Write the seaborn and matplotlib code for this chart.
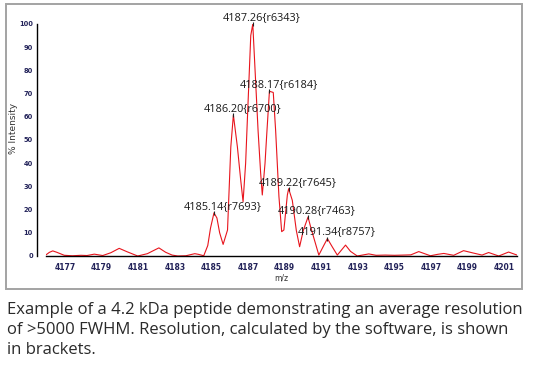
import numpy as np
import pandas as pd
import matplotlib
matplotlib.use("Agg")
import matplotlib.pyplot as plt
import seaborn as sns
from matplotlib.patches import Rectangle

# spectrum trace (m/z, % intensity)
mz = [4175.96, 4176.15, 4176.33, 4176.55, 4176.96, 4177.40, 4177.87, 4178.20,
      4178.60, 4179.06, 4179.50, 4179.96, 4180.40, 4180.97, 4181.50, 4181.85,
      4182.13, 4182.50, 4182.85, 4183.16, 4183.60, 4184.09, 4184.30, 4184.58,
      4184.80, 4184.95, 4185.14, 4185.30, 4185.45, 4185.64, 4185.88, 4186.06,
      4186.20, 4186.42, 4186.60, 4186.73, 4186.87, 4186.93, 4187.15, 4187.26,
      4187.55, 4187.69, 4187.78, 4187.93, 4188.02, 4188.17, 4188.38, 4188.51,
      4188.69, 4188.84, 4188.96, 4189.15, 4189.22, 4189.42, 4189.64, 4189.82,
      4190.02, 4190.28, 4190.42, 4190.87, 4191.15, 4191.34, 4191.60, 4191.88,
      4192.10, 4192.33, 4192.60, 4192.97, 4193.60, 4194.00, 4194.50, 4195.00,
      4195.50, 4195.90, 4196.33, 4196.97, 4197.35, 4197.70, 4198.24, 4198.78,
      4199.30, 4199.79, 4200.15, 4200.70, 4201.24, 4201.70]
intensity = [0.5, 1.6, 2.2, 1.6, 0.3, 0.1, 0.3, 0.2,
             0.8, 0.2, 1.4, 3.3, 1.8, 0.0, 1.0, 2.4,
             3.5, 1.6, 0.4, 0.0, 0.1, 1.0, 0.7, 0.1,
             4.5, 12.0, 18.6, 16.4, 10.0, 5.0, 11.2, 47.0,
             60.8, 47.0, 32.8, 23.4, 40.0, 52.0, 95.0, 100.0,
             54.0, 35.8, 26.3, 40.0, 52.0, 71.0, 70.5, 54.0,
             25.6, 10.5, 11.2, 26.3, 29.0, 24.0, 11.0, 4.0,
             11.0, 16.8, 12.6, 0.4, 4.7, 7.5, 4.0, 0.4,
             2.5, 4.7, 2.0, 0.0, 0.9, 0.3, 0.4, 0.3,
             0.4, 0.5, 1.9, 0.1, 0.7, 1.1, 0.3, 2.3,
             1.3, 0.4, 1.5, 0.0, 1.7, 0.4]

# labelled peaks
peak_mz = [4185.14, 4186.20, 4187.26, 4188.17, 4189.22, 4190.28, 4191.34]
peak_int = [18.6, 60.8, 100.0, 71.0, 29.0, 16.8, 7.5]
resolution = [7693, 6700, 6343, 6184, 7645, 7463, 8757]

major_ticks = list(range(4177, 4202, 2))
minor_ticks = list(range(4176, 4202, 1))
y_ticks = list(range(0, 101, 10))

caption = ["Example of a 4.2 kDa peptide demonstrating an average resolution",
           "of >5000 FWHM. Resolution, calculated by the software, is shown",
           "in brackets."]

df = pd.DataFrame({"mz": mz, "intensity": intensity})

sns.set_style("white")
W, H = 533, 366
fig = plt.figure(figsize=(W / 100, H / 100), dpi=100)

# grey frame round the plot
fig.patches.append(Rectangle((6 / W, 1 - 289 / H), 516 / W, 285 / H,
                             transform=fig.transFigure, fill=False,
                             edgecolor="#a3a3a3", lw=1.4))

ax = fig.add_axes([46 / W, 1 - 256 / H, 471 / W, 232 / H])
sns.lineplot(data=df, x="mz", y="intensity", ax=ax, color="#e8141c",
             lw=0.8, estimator=None)

ax.set_xlim(mz[0], mz[-1])
ax.set_ylim(0, 100)
for s in ["top", "right"]:
    ax.spines[s].set_visible(False)
ax.spines["left"].set_position(("outward", 6.5))
ax.spines["left"].set_linewidth(1.0)
ax.spines["bottom"].set_linewidth(1.0)
ax.spines["left"].set_color("black")
ax.spines["bottom"].set_color("black")

tick_col = "#23235a"
ax.set_xticks(major_ticks)
ax.set_xticks(minor_ticks, minor=True)
ax.set_yticks(y_ticks)
ax.tick_params(axis="x", which="both", direction="out", length=3, width=0.8,
               color="black", pad=2, labelsize=5.5, labelcolor=tick_col)
ax.tick_params(axis="y", direction="out", length=2, width=0.8, color="black",
               pad=1, labelsize=4.8, labelcolor=tick_col)
for lab in ax.get_xticklabels() + ax.get_yticklabels():
    lab.set_fontweight("bold")

ax.set_xlabel("m/z", fontsize=5.5, color="#333333", labelpad=1)
ax.set_ylabel("% Intensity", fontsize=6.5, color="#333333", labelpad=3)
ax.yaxis.set_label_coords(-0.06, 0.55)

# peak markers and labels
ax.plot(peak_mz, peak_int, ls="none", marker="|", ms=3, mew=0.8,
        color="#222222", clip_on=False)
for m, v, r in zip(peak_mz, peak_int, resolution):
    ax.annotate(f"{m:.2f}{{r{r}}}", xy=(m, v), xytext=(9, 6.5),
                textcoords="offset pixels", ha="center", va="center",
                fontsize=7.8, family="Open Sans", color="#1a1a1a",
                annotation_clip=False)

for i, line in enumerate(caption):
    fig.text(7 / W, 1 - (310 + 20 * i) / H, line, ha="left", va="center",
             fontsize=12, family="Open Sans", color="#2a2a2a")

fig.savefig("out.png", dpi=100)
